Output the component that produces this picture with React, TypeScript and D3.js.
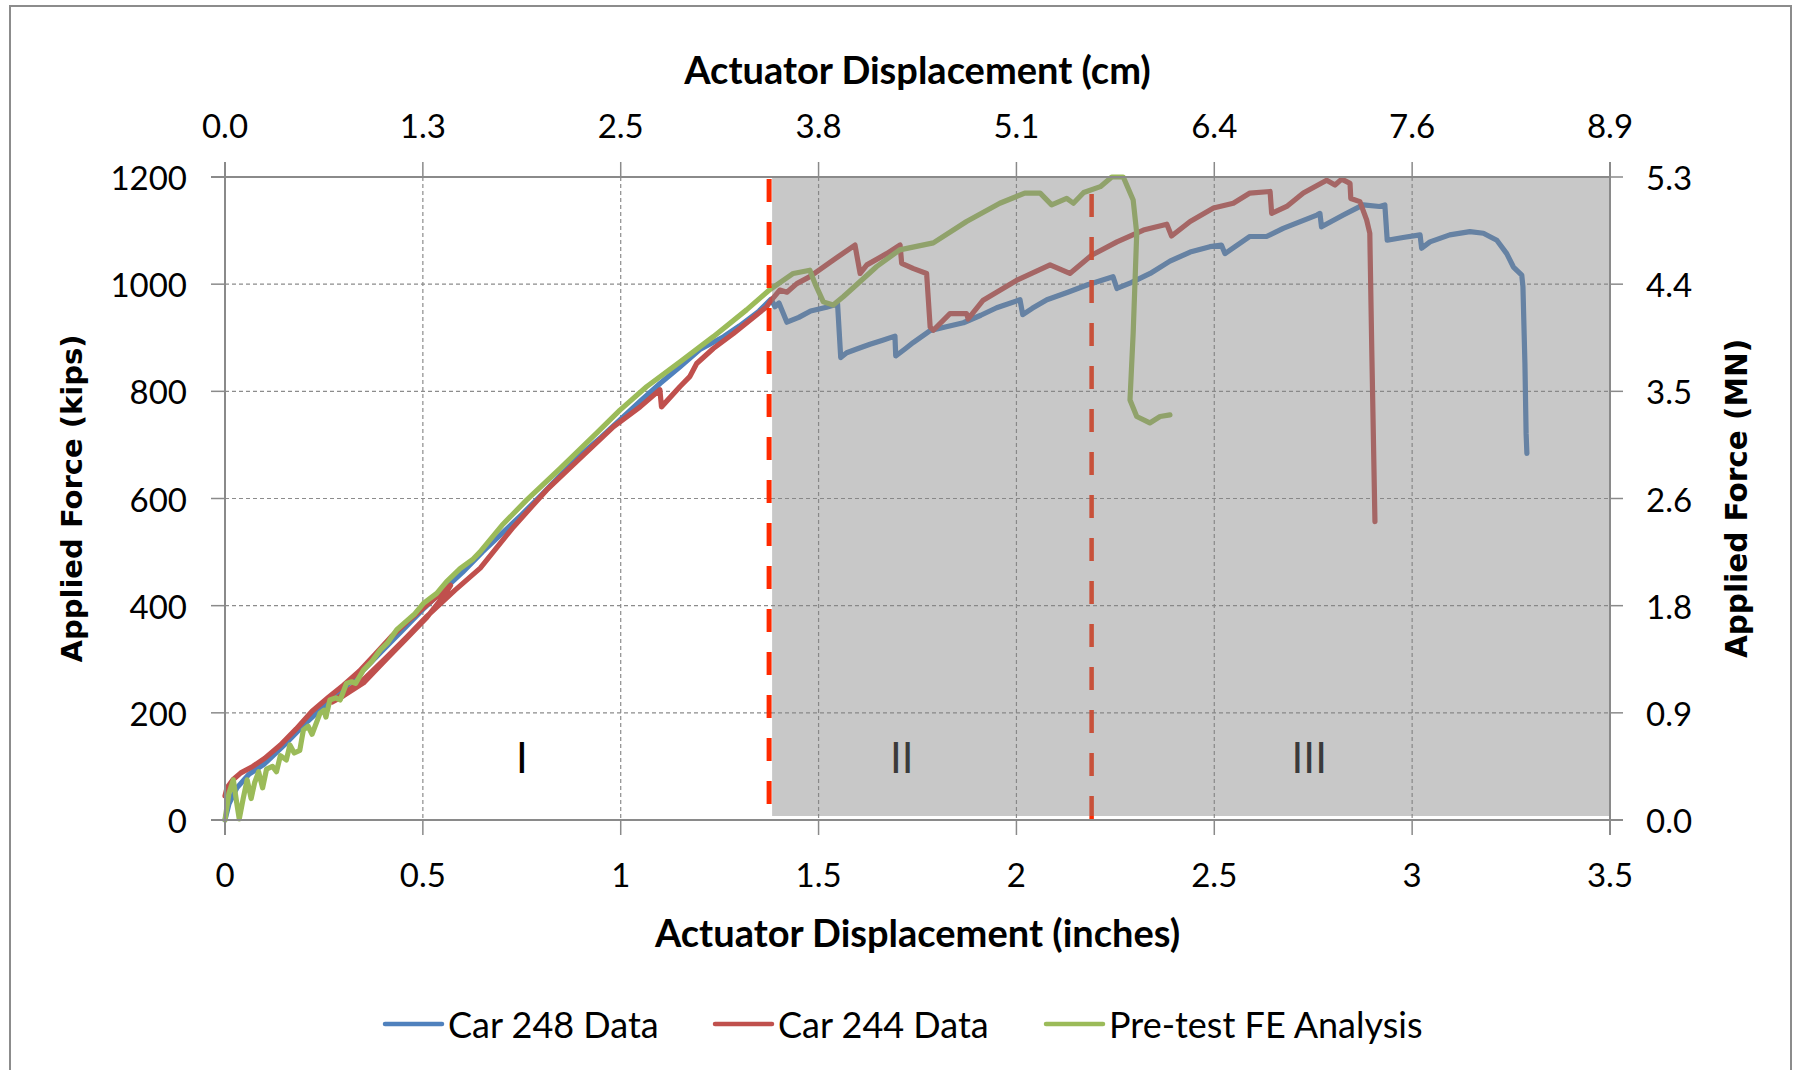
import React from "react";
import * as d3 from "d3";

const W = 1801;
const H = 1070;

// x in inches, y in kips
const car248: [number, number][] = [
  [0, 0], [0.01, 30], [0.03, 60], [0.06, 85], [0.1, 105], [0.15, 140], [0.2, 178], [0.25, 212],
  [0.3, 245], [0.35, 280], [0.4, 318], [0.45, 355], [0.5, 393], [0.55, 428], [0.6, 462], [0.65, 500],
  [0.7, 535], [0.75, 570], [0.8, 607], [0.85, 645], [0.9, 682], [0.95, 714], [1.0, 748], [1.05, 782],
  [1.1, 815], [1.15, 846], [1.2, 878], [1.26, 902], [1.3, 922], [1.35, 950], [1.38, 972], [1.39, 958],
  [1.4, 965], [1.42, 929], [1.45, 938], [1.48, 950], [1.52, 957], [1.548, 963], [1.556, 863], [1.571, 872],
  [1.6, 880], [1.63, 888], [1.66, 895], [1.693, 903], [1.695, 866], [1.72, 880], [1.739, 891], [1.781, 913],
  [1.82, 920], [1.866, 928], [1.91, 942], [1.95, 956], [2.009, 971], [2.016, 943], [2.04, 955], [2.077, 971],
  [2.13, 985], [2.18, 999], [2.244, 1014], [2.254, 992], [2.29, 1003], [2.338, 1020], [2.388, 1043],
  [2.439, 1060], [2.489, 1070], [2.518, 1073], [2.527, 1057], [2.59, 1089], [2.632, 1089], [2.674, 1104],
  [2.759, 1129], [2.767, 1132], [2.771, 1107], [2.826, 1129], [2.876, 1148], [2.918, 1145], [2.931, 1148],
  [2.937, 1082], [2.977, 1087], [3.02, 1092], [3.024, 1067], [3.045, 1079], [3.095, 1092], [3.146, 1098],
  [3.18, 1095], [3.214, 1082], [3.239, 1057], [3.256, 1032], [3.277, 1017], [3.28, 995], [3.285, 852],
  [3.288, 721], [3.29, 684],
];

const car244: [number, number][] = [
  [0, 45], [0.005, 60], [0.02, 75], [0.04, 88], [0.07, 100], [0.1, 115], [0.14, 140], [0.18, 170],
  [0.22, 203], [0.26, 228], [0.3, 252], [0.34, 278], [0.38, 310], [0.42, 342], [0.46, 370], [0.5, 395],
  [0.54, 420], [0.57, 438], [0.555, 420], [0.51, 378], [0.46, 340], [0.41, 302], [0.35, 256], [0.3, 232],
  [0.27, 220], [0.3, 236], [0.35, 262], [0.41, 305], [0.46, 342], [0.51, 380], [0.58, 428], [0.645, 470],
  [0.729, 547], [0.813, 616], [0.897, 675], [0.982, 734], [1.049, 771], [1.099, 803], [1.103, 771],
  [1.15, 809], [1.175, 828], [1.192, 852], [1.234, 880], [1.285, 908], [1.369, 958], [1.377, 967],
  [1.402, 989], [1.42, 985], [1.445, 1001], [1.478, 1014], [1.537, 1045], [1.592, 1073], [1.605, 1020],
  [1.622, 1036], [1.672, 1057], [1.706, 1073], [1.71, 1039], [1.74, 1029], [1.773, 1020], [1.782, 920],
  [1.79, 914], [1.832, 945], [1.874, 945], [1.878, 935], [1.916, 970], [2.0, 1007], [2.085, 1036],
  [2.135, 1020], [2.19, 1054], [2.254, 1079], [2.321, 1101], [2.38, 1112], [2.392, 1090], [2.439, 1117],
  [2.498, 1142], [2.548, 1151], [2.59, 1170], [2.641, 1173], [2.645, 1132], [2.683, 1145], [2.725, 1170],
  [2.784, 1194], [2.805, 1185], [2.822, 1196], [2.843, 1188], [2.845, 1160], [2.868, 1154], [2.885, 1120],
  [2.893, 1095], [2.898, 877], [2.906, 557],
];

const feAnalysis: [number, number][] = [
  [0, 0], [0.01, 50], [0.021, 75], [0.03, 30], [0.036, 2], [0.046, 40], [0.056, 75], [0.066, 40],
  [0.075, 70], [0.085, 90], [0.095, 60], [0.105, 95], [0.12, 100], [0.13, 90], [0.14, 120], [0.155, 112],
  [0.164, 140], [0.175, 125], [0.189, 130], [0.198, 168], [0.21, 175], [0.22, 160], [0.24, 199],
  [0.25, 205], [0.255, 192], [0.265, 224], [0.28, 228], [0.291, 224], [0.307, 255], [0.32, 258],
  [0.33, 255], [0.35, 280], [0.37, 295], [0.392, 317], [0.41, 330], [0.434, 355], [0.46, 372],
  [0.48, 385], [0.501, 404], [0.535, 423], [0.56, 445], [0.594, 469], [0.627, 487], [0.644, 500],
  [0.7, 550], [0.762, 597], [0.847, 656], [0.939, 722], [0.998, 765], [1.066, 809], [1.15, 855],
  [1.234, 902], [1.318, 952], [1.377, 990], [1.436, 1020], [1.478, 1026], [1.491, 1001], [1.512, 967],
  [1.537, 961], [1.563, 977], [1.596, 999], [1.647, 1033], [1.705, 1064], [1.79, 1077], [1.874, 1117],
  [1.958, 1151], [2.021, 1170], [2.06, 1170], [2.089, 1148], [2.127, 1160], [2.144, 1151], [2.17, 1171],
  [2.212, 1182], [2.241, 1200], [2.27, 1200], [2.295, 1157], [2.304, 1095], [2.295, 908], [2.287, 784],
  [2.304, 753], [2.337, 741], [2.363, 753], [2.388, 756],
];

const inchTicks = [0, 0.5, 1, 1.5, 2, 2.5, 3, 3.5];
const inchLabels = ["0", "0.5", "1", "1.5", "2", "2.5", "3", "3.5"];
const cmLabels = ["0.0", "1.3", "2.5", "3.8", "5.1", "6.4", "7.6", "8.9"];
const kipTicks = [0, 200, 400, 600, 800, 1000, 1200];
const mnLabels = ["0.0", "0.9", "1.8", "2.6", "3.5", "4.4", "5.3"];

const boundaries = [1.375, 2.19];
const regionLabels = ["I", "II", "III"];
const regionLabelX = [0.75, 1.71, 2.74];
const regionLabelY = 118;

const seriesNames = ["Car 248 Data", "Car 244 Data", "Pre-test FE Analysis"];
const seriesColors = ["#4F81BD", "#C0504D", "#9BBB59"];
const seriesData = [car248, car244, feAnalysis];

const FONT = "Lato, 'Open Sans', sans-serif";
const AXIS_GRAY = "#8a8a8a";
const DASH_RED = "#FF2A00";

export default function App() {
  const xs = d3.scaleLinear().domain([0, 3.5]).range([225, 1610]);
  const ys = d3.scaleLinear().domain([0, 1200]).range([820, 177]);
  const line = d3
    .line<[number, number]>()
    .x((d) => xs(d[0]))
    .y((d) => ys(d[1]));

  const left = xs(0);
  const right = xs(3.5);
  const top = ys(1200);
  const bottom = ys(0);

  return (
    <svg
      width={W}
      height={H}
      style={{ position: "absolute", left: 0, top: 0, display: "block", background: "#fff" }}
    >
      <rect x={10} y={6} width={1781} height={1100} fill="#fff" stroke="#8c8c8c" strokeWidth={2} />

      {/* gridlines */}
      {kipTicks.slice(1, -1).map((k) => (
        <line key={"hg" + k} x1={left} x2={right} y1={ys(k)} y2={ys(k)} stroke="#8c8c8c" strokeWidth={1.2} strokeDasharray="4,3" />
      ))}
      {inchTicks.slice(1, -1).map((t) => (
        <line key={"vg" + t} x1={xs(t)} x2={xs(t)} y1={top} y2={bottom} stroke="#8c8c8c" strokeWidth={1.2} strokeDasharray="4,3" />
      ))}

      {/* series */}
      {seriesData.map((d, i) => (
        <path key={"s" + i} d={line(d) || ""} fill="none" stroke={seriesColors[i]} strokeWidth={5.2} strokeLinejoin="round" strokeLinecap="round" />
      ))}

      {/* region labels */}
      {regionLabels.map((r, i) => (
        <text key={"r" + i} x={xs(regionLabelX[i])} y={ys(regionLabelY)} fontFamily={FONT} fontSize={42} textAnchor="middle" dominantBaseline="central" fill="#000">
          {r}
        </text>
      ))}

      {/* second boundary, under overlay */}
      <line x1={xs(boundaries[1])} x2={xs(boundaries[1])} y1={bottom - 1} y2={top - 3} stroke={DASH_RED} strokeWidth={4.5} strokeDasharray="23,20" />

      {/* shaded overlay */}
      <rect x={xs(boundaries[0]) + 3} y={top} width={right - xs(boundaries[0]) - 3} height={bottom - top - 4} fill="rgb(131,131,131)" fillOpacity={0.443} />

      {/* first boundary */}
      <line x1={xs(boundaries[0])} x2={xs(boundaries[0])} y1={top + 2} y2={bottom + 4} stroke={DASH_RED} strokeWidth={5} strokeDasharray="23,20" />

      {/* axis lines */}
      <line x1={left - 14} x2={right} y1={top} y2={top} stroke={AXIS_GRAY} strokeWidth={2} />
      <line x1={left - 14} x2={right + 13} y1={bottom} y2={bottom} stroke={AXIS_GRAY} strokeWidth={2} />
      <line x1={left} x2={left} y1={top - 15} y2={bottom + 15} stroke={AXIS_GRAY} strokeWidth={2} />
      <line x1={right} x2={right} y1={top - 15} y2={bottom + 15} stroke={AXIS_GRAY} strokeWidth={2} />

      {/* ticks */}
      {kipTicks.map((k) => (
        <g key={"kt" + k}>
          <line x1={left - 14} x2={left} y1={ys(k)} y2={ys(k)} stroke={AXIS_GRAY} strokeWidth={1.5} />
          <line x1={right} x2={right + 13} y1={ys(k)} y2={ys(k)} stroke={AXIS_GRAY} strokeWidth={1.5} />
        </g>
      ))}
      {inchTicks.map((t) => (
        <g key={"it" + t}>
          <line x1={xs(t)} x2={xs(t)} y1={bottom} y2={bottom + 15} stroke={AXIS_GRAY} strokeWidth={1.5} />
          <line x1={xs(t)} x2={xs(t)} y1={top - 15} y2={top} stroke={AXIS_GRAY} strokeWidth={1.5} />
        </g>
      ))}

      {/* tick labels */}
      {kipTicks.map((k) => (
        <text key={"kl" + k} x={187} y={ys(k)} fontFamily={FONT} fontSize={33} textAnchor="end" dominantBaseline="central" fill="#000">
          {String(k)}
        </text>
      ))}
      {kipTicks.map((k, i) => (
        <text key={"ml" + k} x={1646} y={ys(k)} fontFamily={FONT} fontSize={33} textAnchor="start" dominantBaseline="central" fill="#000">
          {mnLabels[i]}
        </text>
      ))}
      {inchTicks.map((t, i) => (
        <text key={"il" + t} x={xs(t)} y={874} fontFamily={FONT} fontSize={33} textAnchor="middle" dominantBaseline="central" fill="#000">
          {inchLabels[i]}
        </text>
      ))}
      {inchTicks.map((t, i) => (
        <text key={"cl" + t} x={xs(t)} y={125} fontFamily={FONT} fontSize={33} textAnchor="middle" dominantBaseline="central" fill="#000">
          {cmLabels[i]}
        </text>
      ))}

      {/* axis titles */}
      <text x={(left + right) / 2} y={69} fontFamily={FONT} fontWeight="bold" fontSize={38} textAnchor="middle" dominantBaseline="central" fill="#000">
        Actuator Displacement (cm)
      </text>
      <text x={(left + right) / 2} y={932} fontFamily={FONT} fontWeight="bold" fontSize={38} textAnchor="middle" dominantBaseline="central" fill="#000">
        Actuator Displacement (inches)
      </text>
      <text transform={`translate(72,${(top + bottom) / 2}) rotate(-90)`} fontFamily="'DejaVu Sans', sans-serif" fontWeight="bold" fontSize={29} textAnchor="middle" dominantBaseline="central" fill="#000">
        Applied Force (kips)
      </text>
      <text transform={`translate(1737,${(top + bottom) / 2}) rotate(-90)`} fontFamily="'DejaVu Sans', sans-serif" fontWeight="bold" fontSize={29.5} textAnchor="middle" dominantBaseline="central" fill="#000">
        Applied Force (MN)
      </text>

      {/* legend */}
      {seriesNames.map((n, i) => {
        const lx = [385, 715, 1046][i];
        return (
          <g key={"lg" + i}>
            <line x1={lx} x2={lx + 57} y1={1024} y2={1024} stroke={seriesColors[i]} strokeWidth={4.5} strokeLinecap="round" />
            <text x={lx + 63} y={1024} fontFamily={FONT} fontSize={36} dominantBaseline="central" fill="#000">
              {n}
            </text>
          </g>
        );
      })}
    </svg>
  );
}
